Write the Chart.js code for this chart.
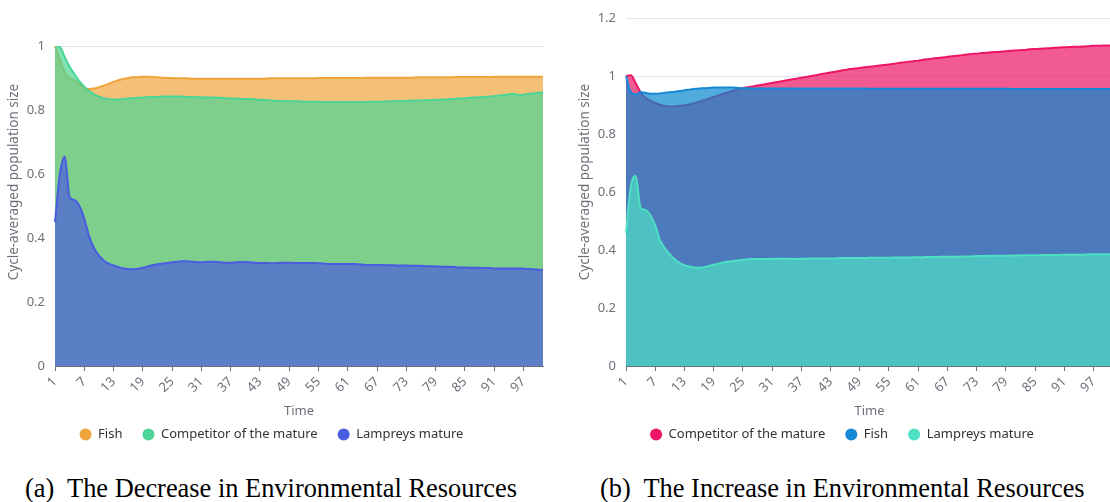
<!DOCTYPE html>
<html lang="en">
<head>
<meta charset="utf-8" />
<script src="https://cdn.jsdelivr.net/npm/chart.js@4.4.0/dist/chart.umd.min.js"></script>
<title>Cycle-averaged population size</title>
<style>
  html, body { margin: 0; padding: 0; background: #fff; }
  body { position: relative; width: 1110px; height: 502px; overflow: hidden; }
  canvas { position: absolute; top: 0; }
  #chartA { left: 0; }
  #chartB { left: 571px; }
  .caption { position: absolute; top: 475px; font-family: "Liberation Serif", "Times New Roman", serif;
             font-size: 26.4px; line-height: 1; white-space: pre; color: #000; }
</style>
</head>
<body>
<canvas id="chartA" width="560" height="451"></canvas>
<canvas id="chartB" width="542" height="451"></canvas>
<div class="caption" style="left:25px">(a)  The Decrease in Environmental Resources</div>
<div class="caption" style="left:600px">(b)  The Increase in Environmental Resources</div>
<script>
// time steps
var times = [1,2,3,4,5,6,7,8,9,10,11,12,13,14,15,16,17,18,19,20,
  21,22,23,24,25,26,27,28,29,30,31,32,33,34,35,36,37,38,39,40,
  41,42,43,44,45,46,47,48,49,50,51,52,53,54,55,56,57,58,59,60,
  61,62,63,64,65,66,67,68,69,70,71,72,73,74,75,76,77,78,79,80,
  81,82,83,84,85,86,87,88,89,90,91,92,93,94,95,96,97,98,99,100,101];

// (a) decrease in resources
var fishA = [1.000,0.958,0.918,0.900,0.893,0.880,0.870,0.866,0.867,0.871,
  0.876,0.882,0.888,0.893,0.897,0.900,0.902,0.903,0.904,0.904,
  0.903,0.902,0.901,0.900,0.900,0.899,0.899,0.899,0.898,0.898,
  0.898,0.898,0.898,0.898,0.898,0.898,0.898,0.898,0.898,0.898,
  0.898,0.898,0.898,0.898,0.899,0.899,0.899,0.899,0.899,0.899,
  0.899,0.899,0.899,0.899,0.900,0.900,0.900,0.900,0.900,0.900,
  0.900,0.900,0.900,0.900,0.901,0.901,0.901,0.901,0.901,0.901,
  0.901,0.901,0.901,0.901,0.902,0.902,0.902,0.902,0.902,0.902,
  0.902,0.902,0.903,0.903,0.903,0.903,0.903,0.903,0.903,0.903,
  0.904,0.904,0.904,0.904,0.904,0.904,0.904,0.904,0.904,0.904,0.904];
var compA = [1.000,0.997,0.965,0.935,0.912,0.890,0.873,0.859,0.849,0.842,
  0.837,0.834,0.833,0.833,0.834,0.836,0.837,0.838,0.839,0.840,
  0.841,0.841,0.842,0.842,0.842,0.842,0.842,0.841,0.841,0.840,
  0.840,0.839,0.839,0.839,0.838,0.837,0.836,0.836,0.835,0.834,
  0.834,0.833,0.832,0.831,0.830,0.829,0.828,0.828,0.827,0.827,
  0.827,0.826,0.826,0.826,0.825,0.825,0.825,0.825,0.825,0.825,
  0.825,0.825,0.825,0.825,0.825,0.826,0.826,0.826,0.827,0.827,
  0.828,0.828,0.829,0.829,0.830,0.830,0.831,0.831,0.832,0.833,
  0.833,0.834,0.835,0.836,0.837,0.838,0.839,0.840,0.841,0.842,
  0.843,0.845,0.847,0.849,0.851,0.847,0.848,0.850,0.852,0.854,0.855];
var lampA = [0.450,0.600,0.655,0.527,0.519,0.500,0.460,0.405,0.368,0.345,
  0.330,0.320,0.314,0.309,0.305,0.303,0.302,0.304,0.307,0.311,
  0.315,0.318,0.320,0.322,0.324,0.326,0.327,0.327,0.326,0.325,
  0.324,0.325,0.326,0.325,0.324,0.323,0.323,0.324,0.325,0.325,
  0.324,0.323,0.322,0.322,0.321,0.321,0.322,0.323,0.323,0.322,
  0.322,0.322,0.322,0.322,0.321,0.320,0.319,0.319,0.319,0.319,
  0.319,0.319,0.318,0.317,0.316,0.316,0.316,0.316,0.315,0.315,
  0.314,0.314,0.314,0.313,0.313,0.313,0.312,0.312,0.311,0.311,
  0.310,0.310,0.309,0.308,0.308,0.307,0.307,0.307,0.306,0.306,
  0.305,0.305,0.305,0.305,0.305,0.305,0.304,0.303,0.302,0.301,0.300];

// (b) increase in resources
var compB = [1.000,1.003,0.975,0.944,0.925,0.915,0.907,0.901,0.897,0.895,
  0.895,0.897,0.899,0.902,0.906,0.911,0.917,0.922,0.928,0.933,
  0.939,0.944,0.949,0.954,0.958,0.961,0.964,0.967,0.970,0.973,
  0.976,0.979,0.982,0.985,0.988,0.991,0.994,0.997,1.000,1.003,
  1.006,1.009,1.012,1.015,1.018,1.021,1.024,1.026,1.028,1.030,
  1.032,1.034,1.036,1.038,1.040,1.042,1.045,1.047,1.049,1.051,
  1.053,1.056,1.058,1.060,1.062,1.064,1.066,1.068,1.070,1.072,
  1.074,1.076,1.077,1.079,1.080,1.082,1.083,1.084,1.085,1.087,
  1.088,1.089,1.090,1.092,1.093,1.094,1.095,1.096,1.097,1.098,
  1.099,1.100,1.101,1.101,1.102,1.103,1.104,1.104,1.105,1.105,1.106];
var fishB = [1.000,0.945,0.936,0.945,0.942,0.939,0.939,0.940,0.942,0.944,
  0.946,0.948,0.951,0.953,0.955,0.957,0.958,0.959,0.960,0.960,
  0.960,0.960,0.960,0.959,0.958,0.958,0.957,0.957,0.957,0.957,
  0.957,0.957,0.957,0.957,0.957,0.957,0.957,0.957,0.957,0.957,
  0.957,0.957,0.957,0.957,0.957,0.957,0.957,0.957,0.957,0.957,
  0.956,0.956,0.956,0.956,0.956,0.956,0.956,0.956,0.956,0.956,
  0.956,0.956,0.956,0.956,0.956,0.956,0.956,0.956,0.956,0.956,
  0.956,0.956,0.956,0.956,0.956,0.956,0.956,0.956,0.956,0.956,
  0.955,0.955,0.955,0.955,0.955,0.955,0.955,0.955,0.955,0.955,
  0.955,0.955,0.955,0.955,0.955,0.955,0.955,0.955,0.955,0.955,0.955];
var lampB = [0.459,0.620,0.655,0.545,0.538,0.520,0.485,0.434,0.405,0.385,
  0.368,0.356,0.348,0.343,0.340,0.339,0.341,0.345,0.349,0.353,
  0.357,0.360,0.362,0.364,0.366,0.368,0.369,0.369,0.369,0.369,
  0.369,0.370,0.370,0.370,0.369,0.369,0.370,0.370,0.371,0.371,
  0.371,0.371,0.371,0.371,0.372,0.372,0.372,0.372,0.372,0.372,
  0.373,0.373,0.373,0.373,0.373,0.374,0.374,0.374,0.374,0.375,
  0.375,0.375,0.376,0.376,0.376,0.377,0.377,0.377,0.377,0.378,
  0.378,0.378,0.379,0.379,0.379,0.380,0.380,0.380,0.380,0.381,
  0.381,0.381,0.382,0.382,0.382,0.382,0.383,0.383,0.383,0.383,
  0.384,0.384,0.384,0.384,0.384,0.385,0.385,0.385,0.385,0.385,0.385];

var yTitle = 'Cycle-averaged population size';

Chart.defaults.font.family = "'Noto Sans', sans-serif";
Chart.defaults.animation = false;

var axisGrey = '#6e7079';

// y axis name sits a bit above the middle of the axis, like the original
var yTitlePlugin = {
    id: 'yTitle',
    afterDraw: function (chart, args, opts) {
        var ctx = chart.ctx;
        ctx.save();
        ctx.translate(opts.x, opts.y);
        ctx.rotate(-Math.PI / 2);
        ctx.font = "13.5px 'Noto Sans', sans-serif";
        ctx.fillStyle = axisGrey;
        ctx.textAlign = 'center';
        ctx.textBaseline = 'middle';
        ctx.fillText(opts.text, 0, 0);
        ctx.restore();
    }
};

// series: label, data, line colour, fill colour, order (lower = drawn on top)
function makeChart(id, series, yMax, pad) {
    return new Chart(document.getElementById(id), {
        type: 'line',
        data: {
            labels: times,
            datasets: series.map(function (s) {
                return {
                    label: s[0], data: s[1], borderColor: s[2], backgroundColor: s[3], order: s[4],
                    fill: 'origin', borderWidth: 2, pointRadius: 0, pointHoverRadius: 0,
                    cubicInterpolationMode: 'monotone'
                };
            })
        },
        plugins: [yTitlePlugin],
        options: {
            responsive: false,
            layout: { padding: pad },
            scales: {
                x: {
                    offset: false,
                    grid: { drawOnChartArea: false, tickLength: 5, color: axisGrey, offset: false },
                    border: { color: axisGrey },
                    ticks: {
                        autoSkip: false, maxRotation: 45, minRotation: 45, padding: 3,
                        color: axisGrey, font: { size: 13 },
                        callback: function (v, i) { return i % 6 === 0 ? String(times[i]) : null; }
                    },
                    title: { display: true, text: 'Time', color: axisGrey, font: { size: 13 },
                             padding: { top: 0, bottom: -11 } },
                    afterFit: function (s) { s.height = 42; }
                },
                y: {
                    min: 0, max: yMax,
                    grid: { color: '#e0e6f1', drawTicks: false },
                    border: { display: false },
                    ticks: {
                        stepSize: 0.2, padding: 10, color: axisGrey, font: { size: 13 },
                        callback: function (v) { return String(Number(v.toFixed(1))); }
                    },
                    afterFit: function (s) { s.width = 55; }
                }
            },
            plugins: {
                tooltip: { enabled: false },
                yTitle: { text: yTitle, x: 14, y: 182 },
                legend: {
                    position: 'bottom',
                    labels: {
                        usePointStyle: true, pointStyle: 'circle', boxWidth: 12, boxHeight: 8.5,
                        pointStyleWidth: 12, padding: 20, color: '#333', font: { size: 13 },
                        sort: function (a, b) { return a.datasetIndex - b.datasetIndex; },
                        generateLabels: function (chart) {
                            return Chart.defaults.plugins.legend.labels.generateLabels(chart).map(function (it) {
                                it.fillStyle = it.strokeStyle;
                                it.lineWidth = 0;
                                return it;
                            });
                        }
                    }
                }
            }
        }
    });
}

makeChart('chartA', [
    ['Fish', fishA, '#f0a43c', 'rgba(240,164,60,0.7)', 3],
    ['Competitor of the mature', compA, '#4cd596', 'rgba(76,213,150,0.7)', 2],
    ['Lampreys mature', lampA, '#4a5ce0', 'rgba(75,93,220,0.7)', 1]
], 1, { top: 46, right: 17, left: 0, bottom: 0 });

makeChart('chartB', [
    ['Competitor of the mature', compB, '#ed1566', 'rgba(236,21,98,0.7)', 3],
    ['Fish', fishB, '#1689d6', 'rgba(7,136,207,0.7)', 2],
    ['Lampreys mature', lampB, '#4de0c4', 'rgba(78,224,196,0.7)', 1]
], 1.2, { top: 18, right: 0, left: 0, bottom: 0 });
</script>
</body>
</html>
